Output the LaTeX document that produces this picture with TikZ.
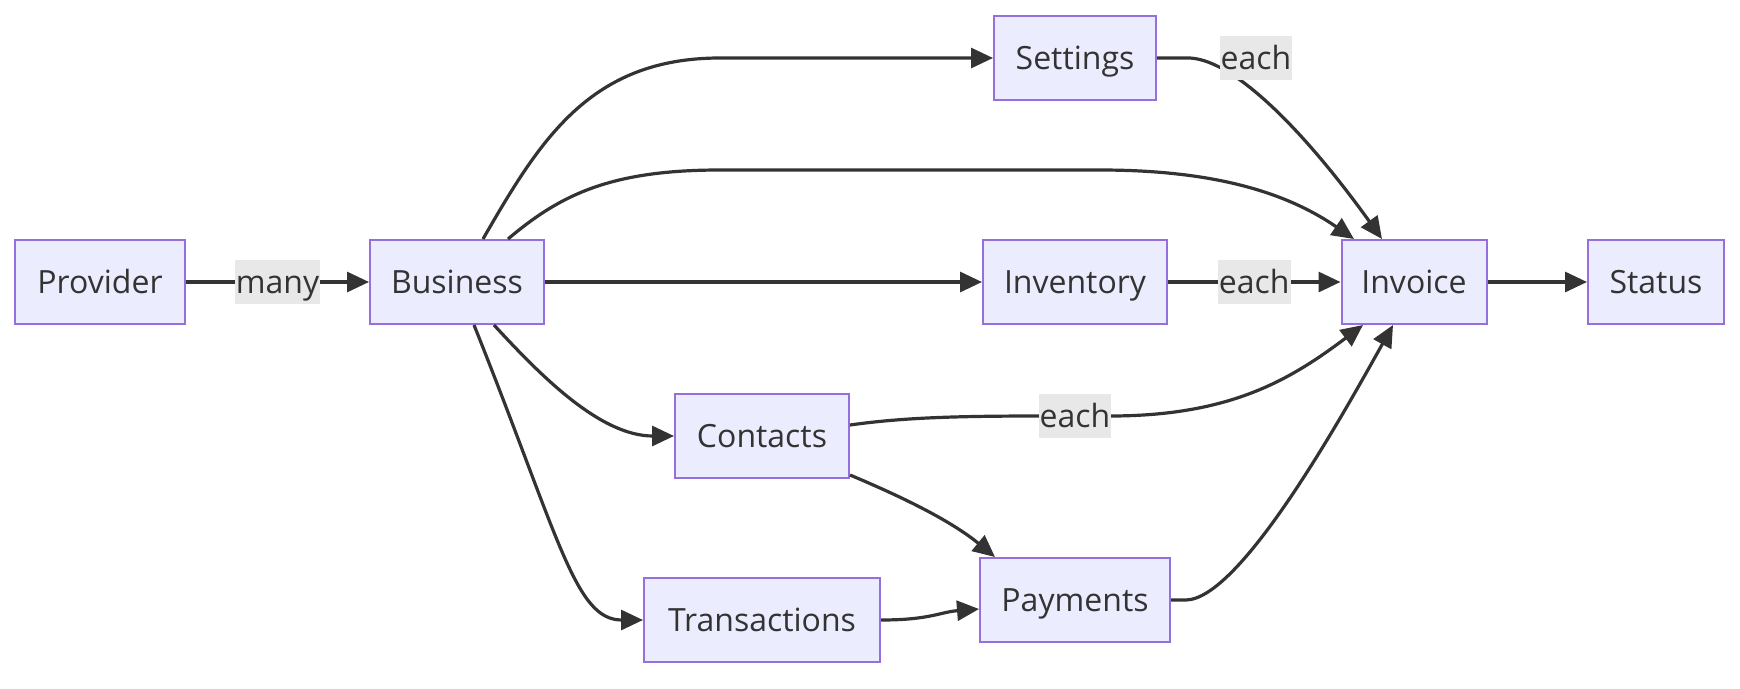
\documentclass[tikz,border=0pt]{standalone}
\usepackage{fontspec}
\setmainfont{Open Sans}
\usetikzlibrary{arrows.meta}
\definecolor{boxfill}{HTML}{ECECFF}
\definecolor{boxline}{HTML}{9370DB}
\definecolor{ink}{HTML}{333333}
\definecolor{lblbg}{HTML}{E8E8E8}

\begin{document}
\begin{tikzpicture}[
    x=1pt,y=-1pt,
    >={Triangle[length=22pt,width=20pt]},
    box/.style={draw=boxline,line width=2pt,fill=boxfill,text=ink,minimum height=84pt,
      inner xsep=0pt,text height=26pt,text depth=3pt,font=\fontsize{32}{38}\selectfont},
    lbl/.style={fill=lblbg,text=ink,inner xsep=1pt,inner ysep=0pt,minimum height=44pt,
      text height=26pt,text depth=3pt,font=\fontsize{32}{38}\selectfont},
    edge/.style={->,draw=ink,line width=3.2pt}]
  \useasboundingbox (0,0) rectangle (1740,688);
  \node[box,minimum width=170pt] (provider) at (100,282) {Provider};
  \node[box,minimum width=174pt] (business) at (457,282) {Business};
  \node[box,minimum width=162pt] (settings) at (1075,58) {Settings};
  \node[box,minimum width=184pt] (inventory) at (1075,282) {Inventory};
  \node[box,minimum width=145pt] (invoice) at (1414,282) {Invoice};
  \node[box,minimum width=136pt] (status) at (1656,282) {Status};
  \node[box,minimum width=174pt] (contacts) at (762,436) {Contacts};
  \node[box,minimum width=236pt] (trans) at (762,620) {Transactions};
  \node[box,minimum width=190pt] (payments) at (1075,600) {Payments};

  \draw[edge] (provider) -- node[lbl] (lmany) {many} (business);
  \draw[edge] ([xshift=26pt]business.north) .. controls (540,140) and (590,58) .. (720,58) -- (settings.west);
  \draw[edge] ([xshift=51pt]business.north) .. controls (560,195) and (610,170) .. (720,170) -- (1100,170)
    .. controls (1220,170) and (1290,195) .. ([xshift=-60pt]invoice.north);
  \draw[edge] (business) -- (inventory);
  \draw[edge] ([xshift=37pt]business.south) .. controls (540,375) and (600,436) .. (contacts.west);
  \draw[edge] ([xshift=17pt]business.south) .. controls (560,540) and (575,620) .. (trans.west);
  % the settings label sits on the line, not at its middle
  \draw[edge] (settings.east) -- ++(30,0) .. controls (1230,57) and (1300,125) .. ([xshift=-32pt]invoice.north);
  \node[lbl] (leachset) at (1256,58) {each};
  \draw[edge] (inventory) -- node[lbl] (leachinv) {each} (invoice);
  \draw[edge] ([yshift=11pt]contacts.east) .. controls (900,418) and (950,416) .. (1040,416)
    -- node[lbl] (leachcon) {each} (1110,416) .. controls (1230,416) and (1290,380) .. ([xshift=-51pt]invoice.south);
  \draw[edge] ([yshift=4pt]contacts.south east) .. controls (900,496) and (950,520) .. ([xshift=-80pt]payments.north);
  \draw[edge] (trans.east) .. controls (930,620) and (940,612) .. ([yshift=-9pt]payments.west);
  \draw[edge] (payments.east) -- ++(15,0) .. controls (1240,599) and (1340,420) .. ([xshift=-21pt]invoice.south);
  \draw[edge] (invoice) -- (status);
\end{tikzpicture}
\end{document}
